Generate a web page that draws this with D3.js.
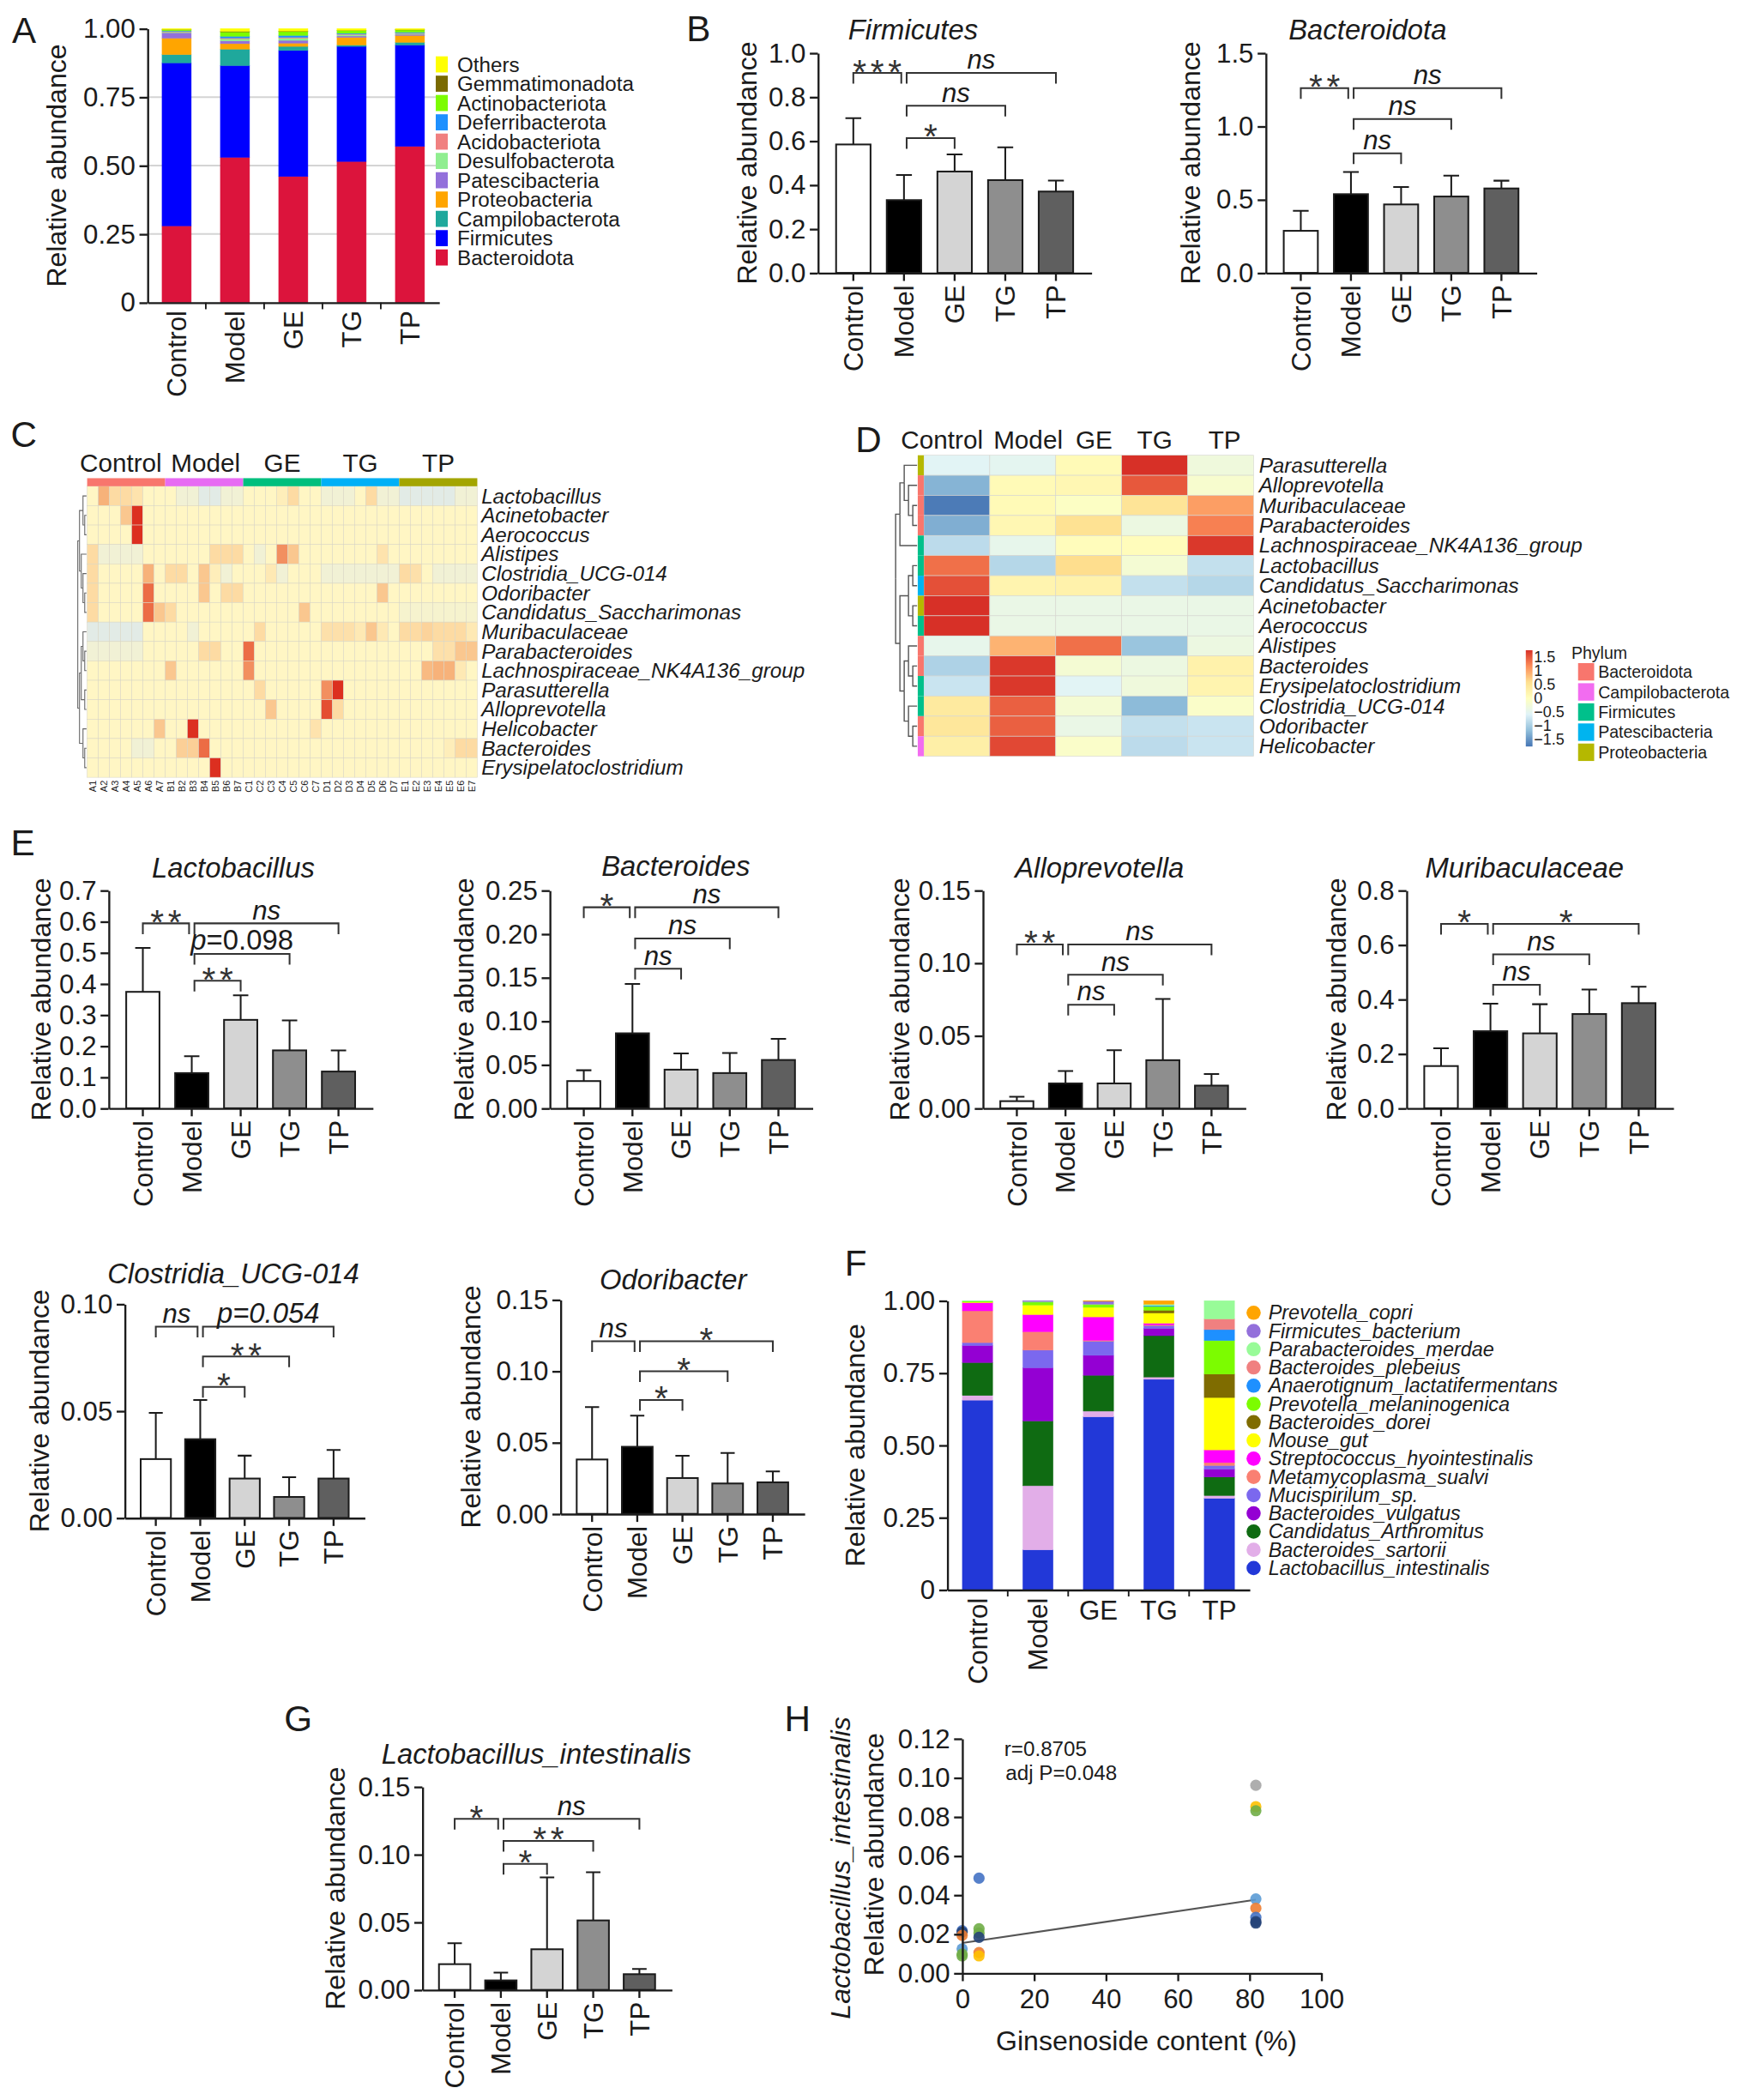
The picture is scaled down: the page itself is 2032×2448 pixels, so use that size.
<!DOCTYPE html>
<html>
<head>
<meta charset="utf-8">
<script src="https://cdn.jsdelivr.net/npm/d3@7"></script>
<style>
  body { margin: 0; background: #fff; }
  svg { display: block; }
  svg text { font-family: "Liberation Sans", Arial, Helvetica, sans-serif; fill: #1b1b1b; }
</style>
</head>
<body>
<script>
// ---------- data ----------
var groups = ['Control', 'Model', 'GE', 'TG', 'TP'];

// A: phylum composition (rows follow phyla, columns follow groups)
var phyla = ['Bacteroidota', 'Firmicutes', 'Campilobacterota', 'Proteobacteria', 'Patescibacteria',
  'Desulfobacterota', 'Acidobacteriota', 'Deferribacterota', 'Actinobacteriota', 'Gemmatimonadota', 'Others'];
var phylumAbund = [
  [0.280, 0.530, 0.460, 0.515, 0.570],
  [0.595, 0.335, 0.460, 0.420, 0.370],
  [0.030, 0.060, 0.015, 0.005, 0.010],
  [0.060, 0.020, 0.012, 0.028, 0.025],
  [0.020, 0.010, 0.010, 0.005, 0.004],
  [0.003, 0.008, 0.008, 0.005, 0.003],
  [0.002, 0.003, 0.003, 0.002, 0.002],
  [0.002, 0.006, 0.007, 0.003, 0.003],
  [0.004, 0.016, 0.014, 0.010, 0.008],
  [0.001, 0.002, 0.002, 0.001, 0.001],
  [0.003, 0.010, 0.009, 0.006, 0.004]
];
var phylaColors = ['#dc143c', '#0000ff', '#1fa89c', '#ffa500', '#9370db', '#90ee90',
  '#f08080', '#1e90ff', '#7cfc00', '#7a6a00', '#ffff00'];
var stackTicks = [0, 0.25, 0.5, 0.75, 1];

// B
var firmicutesMean = [0.584, 0.331, 0.461, 0.422, 0.370];
var firmicutesSD = [0.120, 0.114, 0.078, 0.149, 0.050];
var firmicutesSig = [['Control', 'Model', 0.909, '***'], ['Model', 'TP', 0.909, 'ns'], ['Model', 'TG', 0.760, 'ns'], ['Model', 'GE', 0.613, '*']];
var bacteroidotaMean = [0.287, 0.537, 0.467, 0.521, 0.576];
var bacteroidotaSD = [0.137, 0.151, 0.119, 0.143, 0.053];
var bacteroidotaSig = [['Control', 'Model', 1.26, '**'], ['Model', 'TP', 1.26, 'ns'], ['Model', 'TG', 1.05, 'ns'], ['Model', 'GE', 0.816, 'ns']];

// E
var lactobacillusMean = [0.374, 0.113, 0.284, 0.186, 0.118];
var lactobacillusSD = [0.141, 0.054, 0.079, 0.096, 0.068];
var lactobacillusSig = [['Control', 'Model', 0.594, '**'], ['Model', 'TP', 0.594, 'ns'], ['Model', 'TG', 0.496, 'p=0.098'], ['Model', 'GE', 0.410, '**']];
var bacteroidesMean = [0.0312, 0.0860, 0.0443, 0.0404, 0.0554];
var bacteroidesSD = [0.0124, 0.0567, 0.0187, 0.0229, 0.0243];
var bacteroidesSig = [['Control', 'Model', 0.2306, '*'], ['Model', 'TP', 0.2306, 'ns'], ['Model', 'TG', 0.1949, 'ns'], ['Model', 'GE', 0.1601, 'ns']];
var alloprevotellaMean = [0.0049, 0.0171, 0.0171, 0.0331, 0.0156];
var alloprevotellaSD = [0.0030, 0.0085, 0.0229, 0.0421, 0.0080];
var alloprevotellaSig = [['Control', 'Model', 0.1128, '**'], ['Model', 'TP', 0.1128, 'ns'], ['Model', 'TG', 0.0919, 'ns'], ['Model', 'GE', 0.0713, 'ns']];
var muribaculaceaeMean = [0.155, 0.283, 0.275, 0.346, 0.386];
var muribaculaceaeSD = [0.065, 0.101, 0.107, 0.090, 0.060];
var muribaculaceaeSig = [['Control', 'Model', 0.677, '*'], ['Model', 'TP', 0.677, '*'], ['Model', 'TG', 0.565, 'ns'], ['Model', 'GE', 0.453, 'ns']];
var clostridiaMean = [0.0275, 0.0368, 0.0184, 0.0098, 0.0184];
var clostridiaSD = [0.0216, 0.0183, 0.0107, 0.0092, 0.0134];
var clostridiaSig = [['Control', 'Model', 0.0894, 'ns'], ['Model', 'TP', 0.0894, 'p=0.054'], ['Model', 'TG', 0.0755, '**'], ['Model', 'GE', 0.0612, '*']];
var odoribacterMean = [0.0381, 0.0470, 0.0251, 0.0213, 0.0221];
var odoribacterSD = [0.0367, 0.0218, 0.0156, 0.0214, 0.0076];
var odoribacterSig = [['Control', 'Model', 0.1209, 'ns'], ['Model', 'TP', 0.1209, '*'], ['Model', 'TG', 0.0999, '*'], ['Model', 'GE', 0.0798, '*']];

// G
var intestinalisMean = [0.0190, 0.0070, 0.0300, 0.0513, 0.0116];
var intestinalisSD = [0.0154, 0.0057, 0.0530, 0.0355, 0.0038];
var intestinalisSig = [['Control', 'Model', 0.1263, '*'], ['Model', 'TP', 0.1263, 'ns'], ['Model', 'TG', 0.110, '**'], ['Model', 'GE', 0.093, '*']];

var ticks07 = [0, 0.1, 0.2, 0.3, 0.4, 0.5, 0.6, 0.7];
var ticks08 = [0, 0.2, 0.4, 0.6, 0.8];
var ticks10 = [0, 0.2, 0.4, 0.6, 0.8, 1.0];
var ticks15 = [0, 0.5, 1.0, 1.5];
var ticks025 = [0, 0.05, 0.10, 0.15, 0.20, 0.25];
var ticks015 = [0, 0.05, 0.10, 0.15];
var ticks010 = [0, 0.05, 0.10];

// C: genus heatmap per sample
var cSamples = ['A1', 'A2', 'A3', 'A4', 'A5', 'A6', 'A7', 'B1', 'B2', 'B3', 'B4', 'B5', 'B6', 'B7',
  'C1', 'C2', 'C3', 'C4', 'C5', 'C6', 'C7', 'D1', 'D2', 'D3', 'D4', 'D5', 'D6', 'D7',
  'E1', 'E2', 'E3', 'E4', 'E5', 'E6', 'E7'];
var cRows = ['Lactobacillus', 'Acinetobacter', 'Aerococcus', 'Alistipes', 'Clostridia_UCG-014', 'Odoribacter',
  'Candidatus_Saccharimonas', 'Muribaculaceae', 'Parabacteroides', 'Lachnospiraceae_NK4A136_group',
  'Parasutterella', 'Alloprevotella', 'Helicobacter', 'Bacteroides', 'Erysipelatoclostridium'];
var cValues = [
  [0, 2, 1, 1, 0.7, 0, 0, 0, -0.5, -0.5, -1, -1, -0.5, -0.5, 0, 0, 0, 0.3, 1, 0, 0, -0.5, -0.5, -0.5, 0, 1, -0.5, -0.5, -1, -1, -1, -1, -1, -0.5, -0.5],
  [0, 0, 0, 1.5, 4, 0, 0, 0, 0, 0, 0, 0, 0, 0, 0, 0, 0, 0, 0, 0, 0, 0, 0, 0, 0, 0, 0, 0, 0, 0, 0, 0, 0, 0, 0],
  [0, 0, 0, 0, 4.2, 0, 0, 0, 0, 0, 0, 0, 0, 0, 0, 0, 0, 0, 0, 0, 0, 0, 0, 0, 0, 0, 0, 0, 0, 0, 0, 0, 0, 0, 0],
  [1, -0.5, -0.5, -0.5, -0.5, 0, 0, 0, 0, 0, 0, 1, 1, 1, 0, -0.5, 0, 2.5, 1.5, 0, 0, 0, 0, 0, 0, 0, 0.7, 0, 0, 0, 0, 0, 0, 0, 0],
  [1, 0, 0, 0, 0, 2, 0, 1, 1, 0, 1.5, 0.3, -0.5, 0, 0, 0, 0.5, -0.5, 0, 0, 0, -0.5, -0.5, -0.5, -0.5, -0.5, -0.5, -0.5, 1, 0.8, 0, -0.5, -0.5, -0.5, -0.5],
  [1, 0, 0, 0, 0, 3, 0, 0, 0, 0, 1.5, 0, 1, 1, 0, 0, 0, 0, 0, 0, 0, 0, 0, 0, 0, 0, 1.5, 0, 0, 0, 0, 0, 0, 0, 0],
  [1, 0, 0, 0, 0, 3, 1.5, 1, 0, 0, 0, 0, 0, 0, 0, 0, 0, 0, 0, 1.5, 0, 0, 0, 0, 0, 0, 0, 0, -0.3, -0.3, -0.3, -0.3, -0.3, -0.3, -0.3],
  [-1, -1, -1, -1, -1, 0, 0, 0, 0, -0.5, 0, 0, 0, 0, 0, 1, 0, 0, 0, 0, 0, 0.8, 0.8, 0.8, 0.5, 1.5, 0.5, 0, 1, 1, 1.2, 1, 1, 1, 0.5],
  [-0.5, -0.5, -0.5, -0.5, -0.5, 0, 0, 0, 0, 0, 1, 1, 0, 0, 3, 0, 0, 0, 0, 0, 0, 0, 0, 0, 0, 0, 0, 0, 0, 0, 0, 0.8, 0.8, 1.5, 1.5],
  [0, 0, 0, 0, 0, 0, 0, 1.5, 0, 0, 0, 0, 0, 0, 2.5, 0, 0, 0, 0, 0, 0, 0, 0, 0, 0, 0, 0, 0, 0, 0, 1.8, 2, 2, 0.5, 0],
  [0, 0, 0, 0, 0, 0, 0, 0, 0, 0, 0, 0, 0, 0, 0, 1, 0, 0, 0, 0, 0, 2.5, 4, 0, 0, 0, 0, 0, 0, 0, 0, 0, 0, 0, 0],
  [0, 0, 0, 0, 0, 0, 0, 0, 0, 0, 0, 0, 0, 0, 0, 0, 1.5, 0, 0, 0, 0, 3.5, 1, 0, 0, 0, 0, 0, 0, 0, 0, 0, 0, 0, 0],
  [0, 0, 0, 0, 0, 0, 1.5, 0, 0, 4, 0, 0, 0, 0, 0, 0, 0, 0, 0, 0, 0.7, 0, 0, 0, 0, 0, 0, 0, 0, 0, 0, 0, 0, 0, 0],
  [0, 0, 0, 0, -0.5, -0.5, 0, 0, 1.3, 1.3, 3, 0, 0, 0, 0, 0, 0, 0, 0, 0, 0, 0, 0, 0, 0, 0, 0, 0, 0, 0, 0, 0, 0.3, 1, 1],
  [0, 0, 0, 0, 0, 0, 0, 0, 0, 0, 0, 4, 0, 0, 0, 0, 0, 0, 0, 0, 0, 0, 0, 0, 0, 0, 0, 0, 0, 0, 0, 0, 0, 0, 0]
];
var cTree = [[['Lactobacillus', ['Acinetobacter', 'Aerococcus']], ['Alistipes', ['Clostridia_UCG-014', ['Odoribacter', 'Candidatus_Saccharimonas']]]],
  [[['Muribaculaceae', ['Parabacteroides', 'Lachnospiraceae_NK4A136_group']], ['Parasutterella', 'Alloprevotella']],
   ['Helicobacter', ['Bacteroides', 'Erysipelatoclostridium']]]];
var groupColors = ['#f8766d', '#e76bf3', '#00bf7d', '#00b0f6', '#a3a500'];

// D: group-mean heatmap (z-scores)
var dRows = ['Parasutterella', 'Alloprevotella', 'Muribaculaceae', 'Parabacteroides', 'Lachnospiraceae_NK4A136_group',
  'Lactobacillus', 'Candidatus_Saccharimonas', 'Acinetobacter', 'Aerococcus', 'Alistipes', 'Bacteroides',
  'Erysipelatoclostridium', 'Clostridia_UCG-014', 'Odoribacter', 'Helicobacter'];
var dValues = [
  [-0.55, -0.5, 0.1, 1.75, -0.3],
  [-1.25, 0.1, 0.15, 1.5, -0.15],
  [-1.7, 0.1, -0.05, 0.5, 1.05],
  [-1.3, 0.15, 0.55, -0.35, 1.25],
  [-0.85, -0.45, 0.05, 0.05, 1.7],
  [1.35, -0.9, 0.6, -0.2, -0.8],
  [1.55, 0.2, 0.25, -0.8, -0.9],
  [1.75, -0.4, -0.4, -0.4, -0.4],
  [1.75, -0.4, -0.4, -0.4, -0.4],
  [-0.45, 0.9, 1.35, -1.1, -0.35],
  [-0.95, 1.7, -0.2, -0.35, 0.25],
  [-0.75, 1.7, -0.55, -0.3, 0.2],
  [0.4, 1.45, -0.2, -1.2, -0.1],
  [0.45, 1.45, -0.4, -0.8, -0.75],
  [0.3, 1.6, -0.1, -0.85, -0.75]
];
var dPhylum = ['Proteobacteria', 'Bacteroidota', 'Bacteroidota', 'Bacteroidota', 'Firmicutes', 'Firmicutes',
  'Patescibacteria', 'Proteobacteria', 'Firmicutes', 'Bacteroidota', 'Bacteroidota', 'Firmicutes', 'Firmicutes',
  'Bacteroidota', 'Campilobacterota'];
var legendPhyla = ['Bacteroidota', 'Campilobacterota', 'Firmicutes', 'Patescibacteria', 'Proteobacteria'];
var legendPhylaColors = ['#f8766d', '#f26cf0', '#00c08b', '#00b4ef', '#b5b800'];
var dTree = [[['Parasutterella', ['Alloprevotella', ['Muribaculaceae', 'Parabacteroides']]], 'Lachnospiraceae_NK4A136_group'],
  [[['Lactobacillus', 'Candidatus_Saccharimonas'], ['Acinetobacter', 'Aerococcus']],
   [['Alistipes', ['Bacteroides', 'Erysipelatoclostridium']], ['Clostridia_UCG-014', ['Odoribacter', 'Helicobacter']]]]];
var zTicks = [1.5, 1, 0.5, 0, -0.5, -1, -1.5];
var zColors = ['#4575b4', '#91bfdb', '#e0f3f8', '#ffffbf', '#fee090', '#fc8d59', '#d73027'];

// F: species composition (bottom to top)
var species = ['Lactobacillus_intestinalis', 'Bacteroides_sartorii', 'Candidatus_Arthromitus', 'Bacteroides_vulgatus',
  'Mucispirilum_sp.', 'Metamycoplasma_sualvi', 'Streptococcus_hyointestinalis', 'Mouse_gut', 'Bacteroides_dorei',
  'Prevotella_melaninogenica', 'Anaerotignum_lactatifermentans', 'Bacteroides_plebeius', 'Parabacteroides_merdae',
  'Firmicutes_bacterium', 'Prevotella_copri'];
var speciesAbund = [
  [0.656, 0.138, 0.598, 0.728, 0.316],
  [0.016, 0.222, 0.020, 0.008, 0.010],
  [0.114, 0.224, 0.124, 0.143, 0.064],
  [0.059, 0.184, 0.069, 0.025, 0.027],
  [0.010, 0.061, 0.049, 0.010, 0.013],
  [0.110, 0.064, 0.003, 0.003, 0.010],
  [0.028, 0.059, 0.081, 0.005, 0.044],
  [0.002, 0.033, 0.033, 0.035, 0.181],
  [0.000, 0.000, 0.000, 0.010, 0.081],
  [0.003, 0.010, 0.010, 0.013, 0.116],
  [0.000, 0.001, 0.000, 0.003, 0.038],
  [0.000, 0.001, 0.000, 0.000, 0.037],
  [0.002, 0.001, 0.001, 0.005, 0.063],
  [0.000, 0.002, 0.010, 0.000, 0.000],
  [0.000, 0.000, 0.002, 0.012, 0.000]
];
var speciesColors = ['#2238d8', '#e2aee8', '#0f6b12', '#9400d3', '#7b68ee', '#fa8072', '#ff00ff', '#ffff00',
  '#7f6c00', '#7cfc00', '#1e90ff', '#f08080', '#98fb98', '#9370db', '#ffa500'];

// H: correlation
var ginsenosideContent = [0, 0, 0, 0, 0, 0, 4.7, 4.7, 4.7, 4.7, 4.7, 4.7, 81.8, 81.8, 81.8, 81.8, 81.8, 81.8, 81.8, 81.8];
var intestinalisAbund = [0.0217, 0.0210, 0.0193, 0.0124, 0.0098, 0.0088, 0.0486, 0.0227, 0.0205, 0.0183, 0.0105, 0.0088,
  0.0961, 0.0852, 0.0831, 0.0380, 0.0332, 0.0285, 0.0263, 0.0256];
var pointColors = ['#4472c4', '#264478', '#ed7d31', '#5b9bd5', '#70ad47', '#70ad47', '#4472c4', '#70ad47', '#70ad47',
  '#264478', '#ed7d31', '#ffc000', '#a5a5a5', '#ffc000', '#70ad47', '#5b9bd5', '#ed7d31', '#4472c4', '#264478', '#264478'];
var fitLine = [0.0154, 0.000271]; // intercept, slope
var hXTicks = [0, 20, 40, 60, 80, 100];
var hYTicks = [0, 0.02, 0.04, 0.06, 0.08, 0.10, 0.12];

// ---------- drawing ----------
var ink = '#1b1b1b';
var barFills = ['#ffffff', '#000000', '#d4d4d4', '#8e8e8e', '#5f5f5f'];

var svg = d3.select('body').append('svg')
  .attr('width', 2032).attr('height', 2448)
  .attr('viewBox', '0 0 1300 1566.1');
svg.append('rect').attr('width', 1300).attr('height', 1567).attr('fill', '#fff');

function styleAxis(sel, size) {
  sel.attr('font-size', null).attr('font-family', null);
  sel.selectAll('.domain, .tick line').attr('stroke', ink).attr('stroke-width', 1.5);
  sel.selectAll('text').style('font-size', size + 'px');
}

function rotateLabels(sel, gap) {
  sel.selectAll('text')
    .attr('transform', 'rotate(-90)')
    .attr('x', -gap).attr('y', 0).attr('dy', '0.36em')
    .attr('text-anchor', 'end');
}

function yTitle(g, x, y, lines) {
  g.append('text')
    .attr('transform', 'translate(' + x + ',' + y + ') rotate(-90)')
    .attr('text-anchor', 'middle').attr('dominant-baseline', 'central')
    .style('font-size', '20.5px').text(lines);
}

function letter(t, x, y) {
  svg.append('text').attr('x', x).attr('y', y).style('font-size', '27px').text(t);
}

function barChart(o) {
  var g = svg.append('g');
  var x = d3.scaleBand().domain(groups).range([o.x0, o.x1]).paddingInner(0.32).paddingOuter(0.36);
  var y = d3.scaleLinear().domain([0, o.max]).range([o.yb, o.yt]);
  var bw = x.bandwidth();

  // error bars first so the bar outline sits on top of the stem
  var cap = bw * 0.46;
  g.selectAll('path.err').data(o.mean).join('path')
    .attr('class', 'err')
    .attr('d', function (d, i) {
      var cx = x(groups[i]) + bw / 2, t = y(d + o.sd[i]);
      return 'M' + cx + ',' + y(d) + 'V' + t + 'M' + (cx - cap / 2) + ',' + t + 'H' + (cx + cap / 2);
    })
    .attr('fill', 'none').attr('stroke', ink).attr('stroke-width', 1.3);

  g.selectAll('rect.bar').data(o.mean).join('rect')
    .attr('class', 'bar')
    .attr('x', function (d, i) { return x(groups[i]); })
    .attr('width', bw)
    .attr('y', function (d) { return y(d); })
    .attr('height', function (d) { return y(0) - y(d); })
    .attr('fill', function (d, i) { return barFills[i]; })
    .attr('stroke', ink).attr('stroke-width', 1.3);

  var ya = g.append('g').attr('transform', 'translate(' + o.x0 + ',0)')
    .call(d3.axisLeft(y).tickValues(o.ticks).tickFormat(d3.format(o.fmt)).tickSize(6).tickSizeOuter(0));
  styleAxis(ya, 20);
  var xa = g.append('g').attr('transform', 'translate(0,' + o.yb + ')')
    .call(d3.axisBottom(x).tickSize(6).tickSizeOuter(0));
  styleAxis(xa, 20);
  rotateLabels(xa, 9);

  g.append('text').attr('x', o.tx).attr('y', o.ty)
    .attr('text-anchor', 'middle').attr('dominant-baseline', 'central')
    .style('font-size', '21px').style('font-style', 'italic').text(o.title);
  yTitle(g, o.lx, (o.yt + o.yb) / 2, 'Relative abundance');

  o.sig.forEach(function (s) {
    var xa1 = x(s[0]) + bw / 2 + (s[0] === 'Model' ? 2 : 0);
    var xb1 = x(s[1]) + bw / 2 - (s[1] === 'Model' ? 2 : 0);
    var yy = y(s[2]);
    g.append('path')
      .attr('d', 'M' + xa1 + ',' + (yy + 8) + 'V' + yy + 'H' + xb1 + 'V' + (yy + 8))
      .attr('fill', 'none').attr('stroke', '#333').attr('stroke-width', 1.3);
    var t = g.append('text').attr('x', (xa1 + xb1) / 2).attr('text-anchor', 'middle');
    if (s[3].charAt(0) === '*') {
      t.attr('y', yy + 8).attr('dx', 1.5).style('font-size', '26px').style('letter-spacing', '3px')
        .style('fill', '#333').text(s[3]);
    } else if (s[3] === 'ns') {
      t.attr('y', yy - 3).style('font-size', '20px').style('font-style', 'italic').text('ns');
    } else {
      t.attr('y', yy - 3).style('font-size', '21px');
      t.append('tspan').style('font-style', 'italic').text(s[3].slice(0, 1));
      t.append('tspan').style('font-style', o.pItalic ? 'italic' : 'normal').text(s[3].slice(1));
    }
  });
}

function stackedChart(o) {
  var g = svg.append('g');
  var x = d3.scaleBand().domain(groups).range([o.x0, o.x1]).paddingInner(0.5).paddingOuter(0.25);
  var y = d3.scaleLinear().domain([0, 1]).range([o.yb, o.yt]);
  var table = groups.map(function (name, i) {
    var row = { group: name };
    o.keys.forEach(function (k, j) { row[k] = o.values[j][i]; });
    return row;
  });
  var series = d3.stack().keys(o.keys)(table);

  if (o.grid) {
    g.selectAll('line.grid').data(stackTicks.slice(1, 4)).join('line')
      .attr('x1', o.x0).attr('x2', o.x1)
      .attr('y1', function (d) { return y(d); }).attr('y2', function (d) { return y(d); })
      .attr('stroke', '#d4d4d4').attr('stroke-width', 1.3);
  }

  g.selectAll('g.layer').data(series).join('g')
    .attr('fill', function (d, i) { return o.colors[i]; })
    .attr('stroke', function (d, i) { return o.colors[i]; })
    .attr('stroke-width', 0.3)
    .selectAll('rect').data(function (d) { return d; }).join('rect')
    .attr('x', function (d) { return x(d.data.group); })
    .attr('width', x.bandwidth())
    .attr('y', function (d) { return y(d[1]); })
    .attr('height', function (d) { return Math.max(0, y(d[0]) - y(d[1])); });

  var ya = g.append('g').attr('transform', 'translate(' + o.x0 + ',0)')
    .call(d3.axisLeft(y).tickValues(stackTicks)
      .tickFormat(function (d) { return d === 0 ? '0' : d3.format('.2f')(d); })
      .tickSize(6).tickSizeOuter(0));
  styleAxis(ya, 20);
  var xa = g.append('g').attr('transform', 'translate(0,' + o.yb + ')')
    .call(d3.axisBottom(x).tickSize(0).tickSizeOuter(0));
  styleAxis(xa, 20);
  xa.selectAll('text').each(function (d) {
    var t = d3.select(this);
    if (o.rotateAll || d.length > 2) {
      t.attr('transform', 'rotate(-90)').attr('x', -6).attr('y', 0).attr('dy', '0.36em').attr('text-anchor', 'end');
    } else {
      t.attr('y', 8);
    }
  });
  // small ticks between the bars
  g.selectAll('line.sep').data(groups.slice(1)).join('line')
    .attr('x1', function (d) { return x(d) - x.step() * x.paddingInner() / 2; })
    .attr('x2', function (d) { return x(d) - x.step() * x.paddingInner() / 2; })
    .attr('y1', o.yb).attr('y2', o.yb + 5)
    .attr('stroke', ink).attr('stroke-width', 1.2);

  yTitle(g, o.lx, (o.yt + o.yb) / 2, 'Relative abundance');

  // legend (top entry = last key)
  var keysRev = o.keys.slice().reverse();
  var colorsRev = o.colors.slice().reverse();
  var lg = g.append('g');
  keysRev.forEach(function (k, i) {
    var cy = o.legY + i * o.legStep;
    if (o.circles) {
      lg.append('circle').attr('cx', o.legX + 5).attr('cy', cy).attr('r', 5.3).attr('fill', colorsRev[i]);
    } else {
      lg.append('rect').attr('x', o.legX).attr('y', cy - 6).attr('width', 9).attr('height', 12).attr('fill', colorsRev[i]);
    }
    lg.append('text').attr('x', o.legX + o.legTextDx).attr('y', cy).attr('dominant-baseline', 'central')
      .style('font-size', o.legFont + 'px').style('font-style', o.circles ? 'italic' : 'normal').text(k);
  });
}

function dendro(tree, n, x0, x1, yTop, rowH, stroke, sw) {
  var root = d3.hierarchy(tree, function (d) { return Array.isArray(d) ? d : null; });
  d3.cluster().size([n * rowH, x1 - x0]).separation(function () { return 1; })(root);
  svg.append('g').selectAll('path').data(root.links()).join('path')
    .attr('d', function (l) {
      return 'M' + (x0 + l.source.y) + ',' + (yTop + l.source.x) + 'V' + (yTop + l.target.x) + 'H' + (x0 + l.target.y);
    })
    .attr('fill', 'none').attr('stroke', stroke).attr('stroke-width', sw);
}

// ----- panel letters -----
letter('A', 9, 32); letter('B', 512, 31); letter('C', 8, 333); letter('D', 638, 337);
letter('E', 8, 638); letter('F', 630, 951); letter('G', 212, 1291); letter('H', 585, 1291);

// ----- A -----
stackedChart({ keys: phyla, values: phylumAbund, colors: phylaColors, grid: true, rotateAll: true,
  x0: 110, x1: 327.5, yt: 21.3, yb: 225.6, lx: 42,
  legX: 325, legY: 48, legStep: 14.4, legTextDx: 16, legFont: 15.5 });

// ----- B -----
barChart({ title: 'Firmicutes', mean: firmicutesMean, sd: firmicutesSD, sig: firmicutesSig,
  max: 1.0, ticks: ticks10, fmt: '.1f', x0: 610, x1: 814, yt: 39.5, yb: 203.5, tx: 681, ty: 22, lx: 557 });
barChart({ title: 'Bacteroidota', mean: bacteroidotaMean, sd: bacteroidotaSD, sig: bacteroidotaSig,
  max: 1.5, ticks: ticks15, fmt: '.1f', x0: 944, x1: 1146, yt: 39.5, yb: 203.5, tx: 1020, ty: 22, lx: 888 });

// ----- C -----
(function () {
  var g = svg.append('g');
  var x = d3.scaleBand().domain(cSamples).range([65, 356]);
  var y = d3.scaleBand().domain(cRows).range([362.6, 579.7]);
  var color = d3.scaleLinear().domain([-1, 0, 1, 2, 3, 4])
    .range(['#e2ebe6', '#fff6c4', '#fddba3', '#f7b27a', '#ec6c45', '#dc2f20']).clamp(true);
  g.selectAll('g.row').data(cValues).join('g')
    .selectAll('rect').data(function (row, i) {
      return row.map(function (v, j) { return { v: v, r: cRows[i], c: cSamples[j] }; });
    }).join('rect')
    .attr('x', function (d) { return x(d.c); }).attr('y', function (d) { return y(d.r); })
    .attr('width', x.bandwidth()).attr('height', y.bandwidth())
    .attr('fill', function (d) { return color(d.v); })
    .attr('stroke', '#d9d6c4').attr('stroke-width', 0.35);
  // group annotation bar + labels
  var labelShift = [-4, 1, 0, 0, 0];
  groups.forEach(function (name, gi) {
    var first = cSamples[gi * 7], last = cSamples[gi * 7 + 6];
    var xs = x(first), xe = x(last) + x.bandwidth();
    g.append('rect').attr('x', xs).attr('y', 356.6).attr('width', xe - xs).attr('height', 6).attr('fill', groupColors[gi]);
    g.append('text').attr('x', (xs + xe) / 2 + labelShift[gi]).attr('y', 345).attr('text-anchor', 'middle')
      .attr('dominant-baseline', 'central').style('font-size', '19px').text(name);
  });
  g.selectAll('text.rl').data(cRows).join('text')
    .attr('x', 359).attr('y', function (d) { return y(d) + y.bandwidth() / 2; })
    .attr('dominant-baseline', 'central').style('font-size', '15.5px').style('font-style', 'italic')
    .text(function (d) { return d; });
  g.selectAll('text.cl').data(cSamples).join('text')
    .attr('transform', function (d) { return 'translate(' + (x(d) + x.bandwidth() / 2) + ',582) rotate(-90)'; })
    .attr('text-anchor', 'end').attr('dominant-baseline', 'central')
    .style('font-size', '7px').text(function (d) { return d; });
  dendro(cTree, cRows.length, 58, 64.5, 362.6, y.bandwidth(), '#666', 0.7);
})();

// ----- D -----
(function () {
  var g = svg.append('g');
  var x = d3.scaleBand().domain(groups).range([689, 935]);
  var y = d3.scaleBand().domain(dRows).range([339.5, 564]);
  var zDomain = d3.range(zColors.length).map(function (i) { return -1.75 + i * 3.5 / (zColors.length - 1); });
  var color = d3.scaleLinear().domain(zDomain).range(zColors).clamp(true);
  g.selectAll('g.row').data(dValues).join('g')
    .selectAll('rect').data(function (row, i) {
      return row.map(function (v, j) { return { v: v, r: dRows[i], c: groups[j] }; });
    }).join('rect')
    .attr('x', function (d) { return x(d.c); }).attr('y', function (d) { return y(d.r); })
    .attr('width', x.bandwidth()).attr('height', y.bandwidth())
    .attr('fill', function (d) { return color(d.v); })
    .attr('stroke', '#d6d6d0').attr('stroke-width', 0.4);
  var phylumColor = d3.scaleOrdinal().domain(legendPhyla).range(legendPhylaColors);
  g.selectAll('rect.ann').data(dPhylum).join('rect')
    .attr('x', 684.5).attr('width', 4.5)
    .attr('y', function (d, i) { return y(dRows[i]); }).attr('height', y.bandwidth())
    .attr('fill', function (d) { return phylumColor(d); });
  var headShift = [-11, 4, 4, 0, 3];
  g.selectAll('text.hd').data(groups).join('text')
    .attr('x', function (d, i) { return x(d) + x.bandwidth() / 2 + headShift[i]; })
    .attr('y', 328).attr('text-anchor', 'middle').attr('dominant-baseline', 'central')
    .style('font-size', '19px').text(function (d) { return d; });
  g.selectAll('text.rl').data(dRows).join('text')
    .attr('x', 939).attr('y', function (d) { return y(d) + y.bandwidth() / 2; })
    .attr('dominant-baseline', 'central').style('font-size', '15.5px').style('font-style', 'italic')
    .text(function (d) { return d; });
  dendro(dTree, dRows.length, 668, 684, 339.5, y.bandwidth(), '#555', 0.9);

  // colour key
  var ky = d3.scaleLinear().domain([-1.75, 1.75]).range([556.7, 484.9]);
  var grad = svg.append('defs').append('linearGradient').attr('id', 'zgrad')
    .attr('x1', 0).attr('y1', 1).attr('x2', 0).attr('y2', 0);
  zColors.forEach(function (c, i) {
    grad.append('stop').attr('offset', i / (zColors.length - 1)).attr('stop-color', c);
  });
  g.append('rect').attr('x', 1138).attr('y', ky(1.75)).attr('width', 5)
    .attr('height', ky(-1.75) - ky(1.75)).attr('fill', 'url(#zgrad)');
  g.selectAll('text.zk').data(zTicks).join('text')
    .attr('x', 1144).attr('y', function (d) { return ky(d); })
    .attr('dominant-baseline', 'central').style('font-size', '11.5px')
    .text(function (d) { return d3.format('')(d); });
  g.append('text').attr('x', 1172).attr('y', 487).attr('dominant-baseline', 'central')
    .style('font-size', '12.5px').text('Phylum');
  legendPhyla.forEach(function (p, i) {
    var cy = 501 + i * 15;
    g.append('rect').attr('x', 1177).attr('y', cy - 6.5).attr('width', 12).attr('height', 13)
      .attr('fill', legendPhylaColors[i]);
    g.append('text').attr('x', 1192).attr('y', cy).attr('dominant-baseline', 'central')
      .style('font-size', '12.5px').text(p);
  });
})();

// ----- E -----
barChart({ title: 'Lactobacillus', mean: lactobacillusMean, sd: lactobacillusSD, sig: lactobacillusSig,
  max: 0.7, ticks: ticks07, fmt: '.1f', x0: 81, x1: 278, yt: 664, yb: 826.5, tx: 174, ty: 647, lx: 31 });
barChart({ title: 'Bacteroides', mean: bacteroidesMean, sd: bacteroidesSD, sig: bacteroidesSig,
  max: 0.25, ticks: ticks025, fmt: '.2f', x0: 410, x1: 606, yt: 664, yb: 826.5, tx: 504, ty: 646, lx: 346 });
barChart({ title: 'Alloprevotella', mean: alloprevotellaMean, sd: alloprevotellaSD, sig: alloprevotellaSig,
  max: 0.15, ticks: ticks015, fmt: '.2f', x0: 733, x1: 929, yt: 664, yb: 826.5, tx: 820, ty: 647, lx: 671 });
barChart({ title: 'Muribaculaceae', mean: muribaculaceaeMean, sd: muribaculaceaeSD, sig: muribaculaceaeSig,
  max: 0.8, ticks: ticks08, fmt: '.1f', x0: 1049, x1: 1248, yt: 664, yb: 826.5, tx: 1137, ty: 647, lx: 997 });
barChart({ title: 'Clostridia_UCG-014', mean: clostridiaMean, sd: clostridiaSD, sig: clostridiaSig, pItalic: true,
  max: 0.10, ticks: ticks010, fmt: '.2f', x0: 93, x1: 272, yt: 972.5, yb: 1132, tx: 174, ty: 950, lx: 29.5 });
barChart({ title: 'Odoribacter', mean: odoribacterMean, sd: odoribacterSD, sig: odoribacterSig,
  max: 0.15, ticks: ticks015, fmt: '.2f', x0: 418, x1: 600, yt: 969.3, yb: 1129, tx: 502, ty: 954, lx: 351 });

// ----- F -----
stackedChart({ keys: species, values: speciesAbund, colors: speciesColors, grid: false, rotateAll: false, circles: true,
  x0: 706.5, x1: 932, yt: 970, yb: 1185.6, lx: 638,
  legX: 930, legY: 979, legStep: 13.6, legTextDx: 16, legFont: 15 });

// ----- G -----
barChart({ title: 'Lactobacillus_intestinalis', mean: intestinalisMean, sd: intestinalisSD, sig: intestinalisSig,
  max: 0.15, ticks: ticks015, fmt: '.2f', x0: 315, x1: 501, yt: 1332.5, yb: 1484, tx: 400, ty: 1308, lx: 250 });

// ----- H -----
(function () {
  var g = svg.append('g');
  var x = d3.scaleLinear().domain([0, 100]).range([717.6, 985.4]);
  var y = d3.scaleLinear().domain([0, 0.12]).range([1471.5, 1296.6]);
  var xr = d3.extent(ginsenosideContent);
  g.append('line')
    .attr('x1', x(xr[0])).attr('y1', y(fitLine[0] + fitLine[1] * xr[0]))
    .attr('x2', x(xr[1])).attr('y2', y(fitLine[0] + fitLine[1] * xr[1]))
    .attr('stroke', '#555').attr('stroke-width', 1.4);
  g.selectAll('circle').data(ginsenosideContent).join('circle')
    .attr('cx', function (d) { return x(d); })
    .attr('cy', function (d, i) { return y(intestinalisAbund[i]); })
    .attr('r', 4.2)
    .attr('fill', function (d, i) { return pointColors[i]; })
    .attr('fill-opacity', 0.9);
  var ya = g.append('g').attr('transform', 'translate(' + x(0) + ',0)')
    .call(d3.axisLeft(y).tickValues(hYTicks).tickFormat(d3.format('.2f')).tickSize(6).tickSizeOuter(0));
  styleAxis(ya, 20);
  var xa = g.append('g').attr('transform', 'translate(0,' + y(0) + ')')
    .call(d3.axisBottom(x).tickValues(hXTicks).tickSize(6).tickSizeOuter(0));
  styleAxis(xa, 20);
  xa.selectAll('text').attr('y', 12);
  g.append('text').attr('x', 855).attr('y', 1522).attr('text-anchor', 'middle').attr('dominant-baseline', 'central')
    .style('font-size', '20.5px').text('Ginsenoside content (%)');
  g.append('text').attr('transform', 'translate(627,1393) rotate(-90)')
    .attr('text-anchor', 'middle').attr('dominant-baseline', 'central')
    .style('font-size', '20.5px').style('font-style', 'italic').text('Lactobacillus_intestinalis');
  yTitle(g, 652, 1383, 'Relative abundance');
  g.append('text').attr('x', 749).attr('y', 1304).attr('dominant-baseline', 'central')
    .style('font-size', '15.5px').text('r=0.8705');
  g.append('text').attr('x', 750).attr('y', 1322).attr('dominant-baseline', 'central')
    .style('font-size', '15.5px').text('adj P=0.048');
})();
</script>
</body>
</html>
